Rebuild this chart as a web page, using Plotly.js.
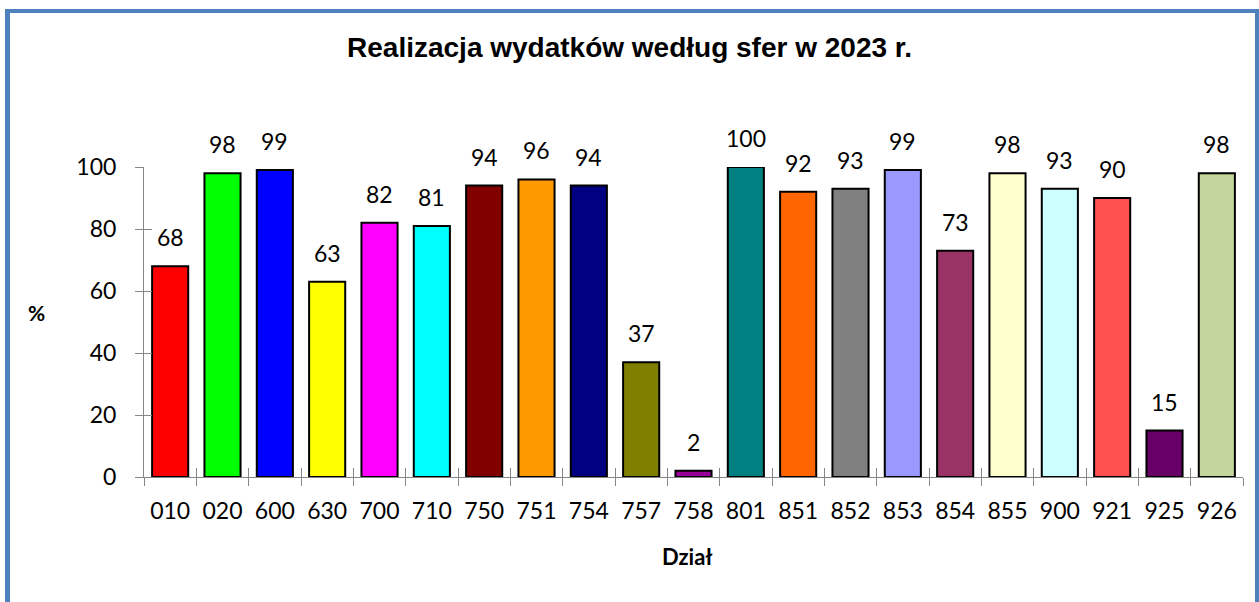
<!DOCTYPE html>
<html>
<head>
<meta charset="utf-8">
<script src="https://cdn.plot.ly/plotly-3.0.1.min.js"></script>
<style>
html,body{margin:0;padding:0;background:#fff;}
#wrap{position:relative;width:1259px;height:602px;overflow:hidden;}
#chart{position:absolute;left:0;top:0;width:1259px;height:602px;}
#frame{position:absolute;left:5px;top:9px;width:1245px;height:700px;border:4px solid #4F81BD;border-left-width:5px;pointer-events:none;}
</style>
</head>
<body>
<div id="wrap"><div id="chart"></div><div id="frame"></div></div>
<script>
const categories = ["010","020","600","630","700","710","750","751","754","757","758","801","851","852","853","854","855","900","921","925","926"];
const values = [68,98,99,63,82,81,94,96,94,37,2,100,92,93,99,73,98,93,90,15,98];
const barColors = ["#FF0000","#00FF00","#0000FF","#FFFF00","#FF00FF","#00FFFF","#800000","#FF9900","#000080","#808000","#990099","#008080","#FF6600","#808080","#9999FF","#993366","#FFFFCC","#CCFFFF","#FF5050","#660066","#C3D69B"];
const yTicks = [0,20,40,60,80,100];
const titleText = "Realizacja wydatków według sfer w 2023 r.";
const xTitle = "Dział";
const yTitle = "%";

const font = "Lato, 'Open Sans', sans-serif";
const axisGray = "#868686";

const traces = [
  {
    type: "bar", x: categories, y: values,
    marker: {color: barColors, line: {color: "#000000", width: 2}},
    hoverinfo: "x+y", showlegend: false
  },
  {
    type: "bar", x: categories, y: values, xaxis: "x2", yaxis: "y2",
    marker: {color: "rgba(0,0,0,0)", line: {width: 0}},
    hoverinfo: "skip", showlegend: false
  }
];

const annotations = categories.map((c, i) => ({
  x: i, y: values[i], xref: "x", yref: "y",
  text: String(values[i]), showarrow: false,
  yanchor: "bottom", yshift: 13,
  font: {family: font, size: 23, color: "#000"}
}));
annotations.push({
  xref: "paper", yref: "paper", x: (36-144)/1099, y: (477-312)/310,
  xanchor: "center", yanchor: "middle", text: "<b>" + yTitle + "</b>", showarrow: false,
  font: {family: font, size: 21, color: "#000"}
});
annotations.push({
  xref: "paper", yref: "paper", x: (687-144)/1099, y: (477-556)/310,
  xanchor: "center", yanchor: "middle", text: "<b>" + xTitle + "</b>", showarrow: false,
  font: {family: font, size: 22, color: "#000"}
});

const layout = {
  width: 1259, height: 602,
  margin: {l: 144, r: 16, t: 167, b: 125, pad: 0},
  paper_bgcolor: "#fff", plot_bgcolor: "#fff",
  bargap: 0.31,
  title: {
    text: "<b>" + titleText + "</b>",
    font: {family: "Arial, 'Liberation Sans', sans-serif", size: 28, color: "#000"},
    x: 0.5, xanchor: "center", xref: "container",
    y: 1 - 47/602, yanchor: "middle", yref: "container"
  },
  xaxis: {
    type: "category", categoryorder: "array", categoryarray: categories,
    tickson: "boundaries", ticks: "outside", ticklen: 8, tickwidth: 1, tickcolor: axisGray,
    showline: true, linecolor: axisGray, linewidth: 1,
    showgrid: false, zeroline: false, tickangle: 0,
    tickfont: {family: font, size: 23, color: "#000"},
    ticklabelstandoff: 13
  },
  xaxis2: {
    type: "category", categoryorder: "array", categoryarray: categories,
    overlaying: "x", side: "bottom",
    tickson: "boundaries", ticks: "inside", ticklen: 9, tickwidth: 1, tickcolor: axisGray,
    showline: false, showgrid: false, zeroline: false, showticklabels: false
  },
  yaxis: {
    range: [0, 100], tickvals: yTicks, ticktext: yTicks.map(String),
    ticks: "outside", ticklen: 8, tickwidth: 1, tickcolor: axisGray,
    showline: true, linecolor: axisGray, linewidth: 1,
    showgrid: false, zeroline: false,
    tickfont: {family: font, size: 23, color: "#000"},
    ticklabelstandoff: 14
  },
  yaxis2: {
    range: [0, 100], tickvals: yTicks, overlaying: "y", side: "left",
    ticks: "inside", ticklen: 8, tickwidth: 1, tickcolor: axisGray,
    showline: false, showgrid: false, zeroline: false, showticklabels: false
  },
  annotations: annotations,
  showlegend: false
};

Plotly.newPlot("chart", traces, layout, {displayModeBar: false, staticPlot: true});
</script>
</body>
</html>
